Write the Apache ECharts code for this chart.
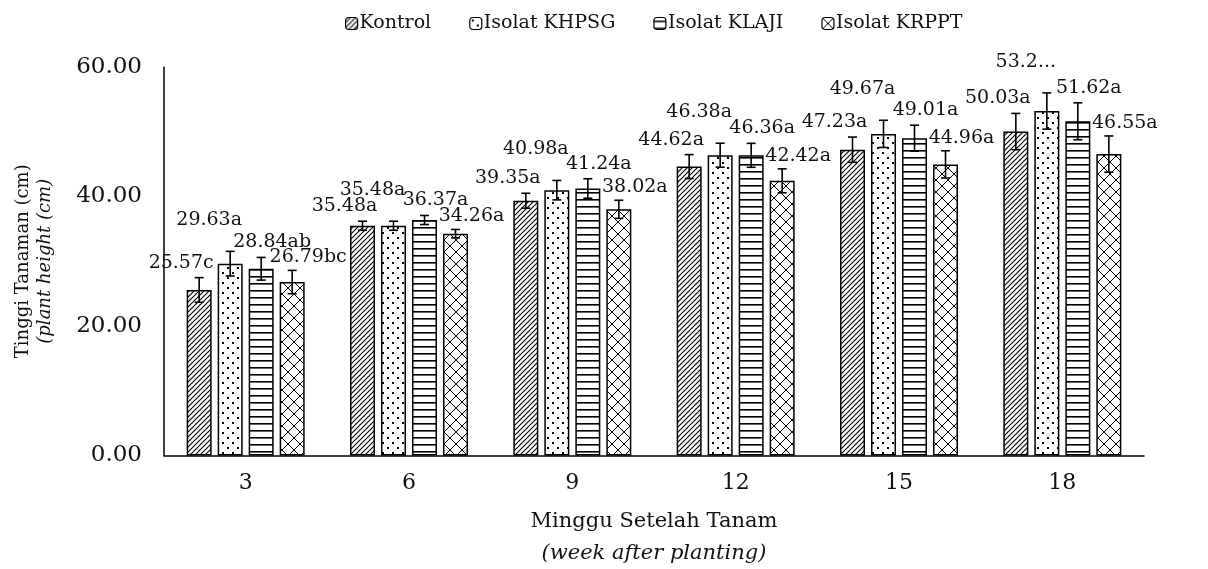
<!DOCTYPE html>
<html>
<head>
<meta charset="utf-8">
<script src="https://cdn.jsdelivr.net/npm/echarts@6/dist/echarts.min.js"></script>
<style>
html,body{margin:0;padding:0;background:#fff;}
#chart{width:1208px;height:569px;}
</style>
</head>
<body>
<div id="chart"></div>
<script>
// ---- data ----
const weeks = ['3', '6', '9', '12', '15', '18'];
const seriesNames = ['Kontrol', 'Isolat KHPSG', 'Isolat KLAJI', 'Isolat KRPPT'];
const kontrol = [25.57, 35.48, 39.35, 44.62, 47.23, 50.03];
const khpsg   = [29.63, 35.48, 40.98, 46.38, 49.67, 53.2];
const klaji   = [28.84, 36.37, 41.24, 46.36, 49.01, 51.62];
const krppt   = [26.79, 34.26, 38.02, 42.42, 44.96, 46.55];
const kontrolErr = [1.9, 0.7, 1.15, 1.85, 1.95, 2.8];
const khpsgErr   = [1.9, 0.7, 1.5, 1.85, 2.1, 2.8];
const klajiErr   = [1.75, 0.7, 1.5, 1.85, 2.0, 2.85];
const krpptErr   = [1.8, 0.65, 1.4, 1.85, 2.1, 2.8];
const kontrolLbl = ['25.57c', '35.48a', '39.35a', '44.62a', '47.23a', '50.03a'];
const khpsgLbl   = ['29.63a', '35.48a', '40.98a', '46.38a', '49.67a', '53.2...'];
const klajiLbl   = ['28.84ab', '36.37a', '41.24a', '46.36a', '49.01a', '51.62a'];
const krpptLbl   = ['26.79bc', '34.26a', '38.02a', '42.42a', '44.96a', '46.55a'];
const yTicks = [0, 20, 40, 60];

const values = [kontrol, khpsg, klaji, krppt];
const errs = [kontrolErr, khpsgErr, klajiErr, krpptErr];
const lbls = [kontrolLbl, khpsgLbl, klajiLbl, krpptLbl];

// ---- patterns ----
function makePattern(kind) {
  const c = document.createElement('canvas');
  const ctx = c.getContext('2d');
  if (kind === 'diag') {
    c.width = 5; c.height = 5;
    ctx.fillStyle = '#fff'; ctx.fillRect(0, 0, 5, 5);
    ctx.strokeStyle = '#000'; ctx.lineWidth = 1.1;
    ctx.beginPath();
    ctx.moveTo(-1, 6); ctx.lineTo(6, -1);
    ctx.moveTo(-1, 1); ctx.lineTo(1, -1);
    ctx.moveTo(4, 6); ctx.lineTo(6, 4);
    ctx.stroke();
  } else if (kind === 'dots') {
    c.width = 10; c.height = 10;
    ctx.fillStyle = '#fff'; ctx.fillRect(0, 0, 10, 10);
    ctx.fillStyle = '#000';
    ctx.fillRect(2, 2, 2, 2);
    ctx.fillRect(7, 7, 2, 2);
  } else if (kind === 'hline') {
    c.width = 8; c.height = 7;
    ctx.fillStyle = '#fff'; ctx.fillRect(0, 0, 8, 7);
    ctx.fillStyle = '#000';
    ctx.fillRect(0, 3, 8, 1.6);
  } else {
    c.width = 12; c.height = 12;
    ctx.fillStyle = '#fff'; ctx.fillRect(0, 0, 12, 12);
    ctx.strokeStyle = '#000'; ctx.lineWidth = 1;
    ctx.beginPath();
    ctx.moveTo(0, 0); ctx.lineTo(12, 12);
    ctx.moveTo(0, 12); ctx.lineTo(12, 0);
    ctx.stroke();
  }
  return { image: c, repeat: 'repeat' };
}
const patterns = [makePattern('diag'), makePattern('dots'), makePattern('hline'), makePattern('cross')];

const FONT = 'DejaVu Serif';
const BAR_W = 25, BAR_GAP = 6;
const totalW = 4 * BAR_W + 3 * BAR_GAP;
const labelDx = [-18, -21, 11, 16];
const labelDy = [15, 31, 15, 13];

const series = [];
values.forEach((vals, k) => {
  series.push({
    name: seriesNames[k],
    type: 'bar',
    barWidth: BAR_W,
    barGap: (BAR_GAP / BAR_W * 100) + '%',
    data: vals,
    itemStyle: { color: patterns[k], borderColor: '#000', borderWidth: 1.5 },
    z: 2
  });
});
values.forEach((vals, k) => {
  const off = -totalW / 2 + BAR_W / 2 + k * (BAR_W + BAR_GAP);
  series.push({
    type: 'custom',
    name: seriesNames[k] + ' err',
    data: vals.map((v, i) => [i, v, errs[k][i]]),
    z: 5,
    silent: true,
    renderItem: function (params, api) {
      const i = api.value(0), v = api.value(1), e = api.value(2);
      const top = api.coord([i, v + e]);
      const bot = api.coord([i, v - e]);
      const x = top[0] + off;
      const cap = 4.5;
      const st = { stroke: '#000', lineWidth: 1.6 };
      return {
        type: 'group',
        children: [
          { type: 'line', shape: { x1: x, y1: top[1], x2: x, y2: bot[1] }, style: st },
          { type: 'line', shape: { x1: x - cap, y1: top[1], x2: x + cap, y2: top[1] }, style: st },
          { type: 'line', shape: { x1: x - cap, y1: bot[1], x2: x + cap, y2: bot[1] }, style: st },
          { type: 'text', style: {
              text: lbls[k][params.dataIndex],
              x: x + labelDx[k], y: top[1] - labelDy[k],
              align: 'center', verticalAlign: 'middle',
              font: '19px "' + FONT + '"', fill: '#111'
          } }
        ]
      };
    }
  });
});

const chart = echarts.init(document.getElementById('chart'), null, { renderer: 'canvas' });
chart.setOption({
  animation: false,
  backgroundColor: '#fff',
  textStyle: { fontFamily: FONT, color: '#111' },
  legend: {
    data: seriesNames,
    top: 9,
    left: 340,
    itemWidth: 12,
    itemHeight: 12,
    itemGap: 38,
    itemStyle: { borderWidth: 1.2 },
    textStyle: { fontFamily: FONT, fontSize: 19, color: '#111', padding: [0, 0, 0, -3] }
  },
  grid: { left: 164, right: 64, top: 67, bottom: 111 },
  xAxis: {
    type: 'category',
    data: weeks,
    axisLine: { lineStyle: { color: '#000', width: 1.5 } },
    axisTick: { show: false },
    axisLabel: { fontFamily: FONT, fontSize: 22, color: '#111', margin: 17 },
    name: '{a|Minggu Setelah Tanam}\n{b|(week after planting)}',
    nameLocation: 'middle',
    nameGap: 50,
    nameTextStyle: {
      rich: {
        a: { fontFamily: FONT, fontSize: 21, color: '#111', lineHeight: 32 },
        b: { fontFamily: FONT, fontSize: 21, fontStyle: 'italic', color: '#111', lineHeight: 32 }
      }
    }
  },
  yAxis: {
    type: 'value',
    min: yTicks[0],
    max: yTicks[yTicks.length - 1],
    interval: yTicks[1] - yTicks[0],
    splitLine: { show: false },
    axisLine: { show: true, lineStyle: { color: '#000', width: 1.5 } },
    axisTick: { show: false },
    axisLabel: { fontFamily: FONT, fontSize: 23, color: '#111', margin: 22,
                 formatter: v => v.toFixed(2) },
    name: '{a|Tinggi Tanaman (cm)}\n{b|(plant height (cm)}',
    nameLocation: 'middle',
    nameRotate: 90,
    nameGap: 108,
    nameTextStyle: {
      rich: {
        a: { fontFamily: FONT, fontSize: 18, color: '#111', lineHeight: 22 },
        b: { fontFamily: FONT, fontSize: 18, fontStyle: 'italic', color: '#111', lineHeight: 22 }
      }
    }
  },
  series: series
});
</script>
</body>
</html>
